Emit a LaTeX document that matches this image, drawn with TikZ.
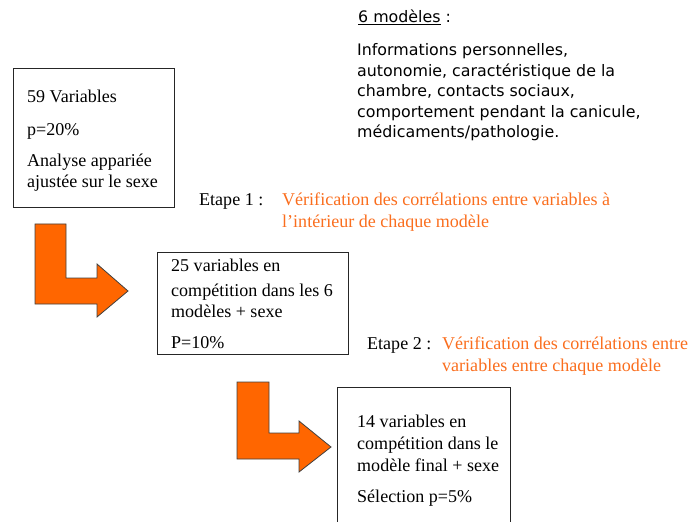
\documentclass[tikz,border=0pt]{standalone}
\usepackage{fontspec}
\setmainfont{Liberation Serif}
\newfontfamily\sansfam{DejaVu Sans}
\definecolor{orng}{RGB}{255,102,0}
\definecolor{orngtxt}{RGB}{250,110,30}
\begin{document}
\begin{tikzpicture}[x=1bp,y=-1bp,
  box/.style={draw=black!85,line width=0.9bp,anchor=north west,inner sep=0pt},
  txt/.style={anchor=base west,inner sep=0pt,font=\fontsize{18.1}{21}\selectfont},
  otxt/.style={txt,text=orngtxt},
  stxt/.style={anchor=base west,inner sep=0pt,font=\sansfam\fontsize{15.9}{20}\selectfont},
  larrow/.style={fill=orng,draw=black!75,line width=0.8bp,line join=miter}]
\useasboundingbox (0,0) rectangle (694,522);
% boxes
\node[box,minimum width=161bp,minimum height=139bp] (b1) at (13,68) {};
\node[box,minimum width=191bp,minimum height=102bp] (b2) at (157,252) {};
\node[box,minimum width=173bp,minimum height=140bp] (b3) at (337,387) {};
% box 1 text
\node[txt] (t11) at (27,103) {59 Variables};
\node[txt] (t12) at (27,136) {p=20\%};
\node[txt] (t13) at (27,167) {Analyse appariée};
\node[txt] (t14) at (27,188) {ajustée sur le sexe};
% box 2 text
\node[txt] (t21) at (171,272) {25 variables en};
\node[txt] (t22) at (171,296) {compétition dans les 6};
\node[txt] (t23) at (171,317) {modèles + sexe};
\node[txt] (t24) at (171,348) {P=10\%};
% box 3 text
\node[txt] (t31) at (357,427) {14 variables en};
\node[txt] (t32) at (357,449) {compétition dans le};
\node[txt] (t33) at (357,471) {modèle final + sexe};
\node[txt] (t34) at (357,502) {Sélection p=5\%};
% models text
\node[stxt] (m0) at (358,23) {\underline{6 modèles} :};
\node[stxt] (m1) at (357,56) {Informations personnelles,};
\node[stxt] (m2) at (357,77) {autonomie, caractéristique de la};
\node[stxt] (m3) at (357,97) {chambre, contacts sociaux,};
\node[stxt] (m4) at (357,118) {comportement pendant la canicule,};
\node[stxt] (m5) at (357,138) {médicaments/pathologie.};
% etapes
\node[txt] (e1) at (199,206) {Etape 1 :};
\node[otxt] (e1a) at (282,206) {Vérification des corrélations entre variables à};
\node[otxt] (e1b) at (282,228) {l’intérieur de chaque modèle};
\node[txt] (e2) at (367,349) {Etape 2 :};
\node[otxt] (e2a) at (442,349) {Vérification des corrélations entre};
\node[otxt] (e2b) at (442,371) {variables entre chaque modèle};
% L arrows
\draw[larrow] (35,224) -- (66,224) -- (66,278) -- (97,278) -- (97,264) -- (128,291)
  -- (97,317) -- (97,304) -- (35,304) -- cycle;
\draw[larrow] (237,382) -- (269,382) -- (269,433) -- (299,433) -- (299,421) -- (331,447)
  -- (299,472) -- (299,459) -- (237,459) -- cycle;
\end{tikzpicture}
\end{document}
